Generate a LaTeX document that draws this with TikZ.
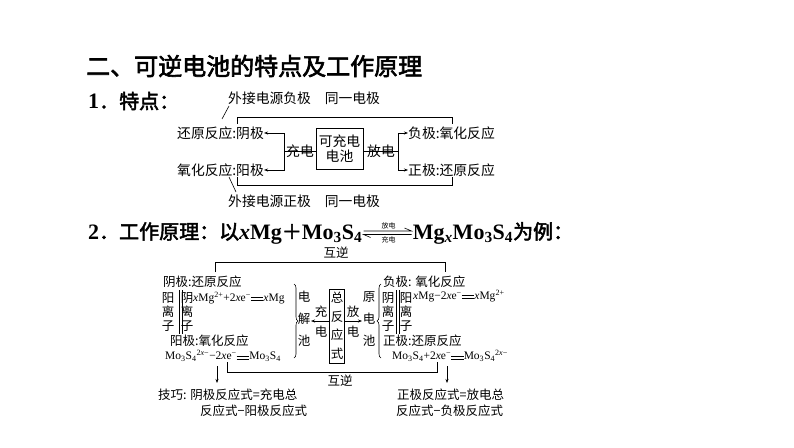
\documentclass[tikz,border=0pt]{standalone}
\usepackage{fontspec}
\setmainfont{Liberation Serif}
\newfontfamily\cjk{Noto Sans CJK SC}
\newfontfamily\cjkb{Noto Sans CJK SC}[FakeBold=2.5]
\usetikzlibrary{arrows.meta,decorations.pathreplacing}
\newcommand{\eqd}{\mbox{\rlap{\raisebox{0.15ex}{\rule{1.1em}{0.5pt}}}\raisebox{0.7ex}{\rule{1.1em}{0.5pt}}}}
\newcommand{\xx}{\textit{x}}
\newcommand{\Lb}[1]{{\rmfamily\bfseries\fontsize{22}{24}\selectfont #1}}
\begin{document}
\begin{tikzpicture}[x=1pt,y=-1pt,
  t1/.style={font=\cjk\fontsize{13.8}{15}\selectfont,inner sep=0pt,anchor=west},
  t2/.style={font=\cjk\fontsize{12.5}{14}\selectfont,inner sep=0pt,anchor=west},
  fm/.style={font=\rmfamily\fontsize{11.5}{13}\selectfont,inner sep=0pt,anchor=west},
  vt/.style={font=\cjk\fontsize{12.5}{14}\selectfont,inner sep=0pt,align=center},
  ln/.style={line width=0.6pt},
  ar/.style={line width=0.6pt,-{Stealth[length=4pt,width=3pt]}}]
\useasboundingbox (0,0) rectangle (794,447);
\fill[white] (0,0) rectangle (794,447);
% headings
\node[inner sep=0pt,anchor=west,font=\cjkb\fontsize{24}{26}\selectfont] (title) at (86,66) {二、可逆电池的特点及工作原理};
\node[inner sep=0pt,anchor=west,font=\cjkb\fontsize{20}{22}\selectfont] (h1) at (88,101) {\Lb{1}．特点：};
\node[inner sep=0pt,anchor=base west,font=\cjkb\fontsize{20}{22}\selectfont] (h2l) at (88,239) {\Lb{2}．工作原理：以\Lb{\textit{x}Mg}＋\Lb{Mo\textsubscript{3}S\textsubscript{4}}};
\coordinate (e1) at ([xshift=1pt,yshift=8pt]h2l.base east);
\coordinate (e2) at ([xshift=49pt,yshift=8pt]h2l.base east);
\coordinate (e3) at ([xshift=49pt,yshift=4.5pt]h2l.base east);
\coordinate (e4) at ([xshift=1pt,yshift=4.5pt]h2l.base east);
\node[inner sep=0pt,anchor=base west,font=\cjkb\fontsize{20}{22}\selectfont] (h2r) at ([xshift=50pt]h2l.base east) {\Lb{Mg\textsubscript{\textit{x}}Mo\textsubscript{3}S\textsubscript{4}}为例：};
\draw[ln] (e1) -- (e2) -- ++(-7,-3);
\draw[ln] (e3) -- (e4) -- ++(7,3);
\node[font=\cjk\fontsize{7}{8}\selectfont,inner sep=0pt,anchor=south] (fd) at ([xshift=25pt,yshift=2pt]e1) {放电};
\node[font=\cjk\fontsize{7}{8}\selectfont,inner sep=0pt,anchor=north] (cd) at ([xshift=25pt,yshift=-2pt]e4) {充电};
% section 1
\node[t1] (wf) at (228,98) {外接电源负极\quad 同一电极};
\node[t1] (hy) at (177,133) {还原反应:阴极};
\node[t1] (yh) at (177,170) {氧化反应:阳极};
\node[t1] (fj) at (408,133) {负极:氧化反应};
\node[t1] (zj) at (408,170) {正极:还原反应};
\node[t1] (wz) at (228,201) {外接电源正极\quad 同一电极};
\node[draw,ln,font=\cjk\fontsize{13.8}{15}\selectfont,align=center,minimum width=47pt,minimum height=41pt,inner sep=1pt] (box) at (339.5,148.5) {可充电\\电池};
\node[t1,anchor=south] (cd1) at (300,158) {充电};
\node[t1,anchor=south] (fd1) at (381,158) {放电};
\draw[ln] (box.west |- 0,151) -- (284,151);
\draw[ar] (284,151) |- (hy.east);
\draw[ar] (284,151) |- (yh.east);
\draw[ln] (box.east |- 0,151) -- (398,151);
\draw[ar] (398,151) |- (fj.west);
\draw[ar] (398,151) |- (zj.west);
\draw[ln] (237,124) -- (237,117) -- (452,117) -- (452,124);
\draw[ln] (237,177) -- (237,185) -- (452,185) -- (452,177);
\draw[ln] (229,106) -- (222,119);
\draw[ln] (229,177) -- (236,192);
% section 2
\node[t2,anchor=center] (hn1) at (336,253) {互逆};
\draw[ln] (215,272) -- (215,262) -- (445,262) -- (445,272);
\node[t2] (yjl) at (163,282) {阴极:还原反应};
\node[vt] (ylz1) at (168,312) {阳\\离\\子};
\node[vt] (ylz2) at (187,312) {阴\\离\\子};
\draw[ln] (179,290) -- (179,334); \draw[ln] (182,290) -- (182,334);
\node[fm] (eq1) at (193,298) {\xx Mg\textsuperscript{2+}+2\xx e\textsuperscript{−}\eqd\xx Mg};
\node[t2] (yjy) at (170,341) {阳极:氧化反应};
\node[fm] (eq2) at (165,356) {Mo\textsubscript{3}S\textsubscript{4}\textsuperscript{2\xx−}−2\xx e\textsuperscript{−}\eqd Mo\textsubscript{3}S\textsubscript{4}};
\draw[ln,decorate,decoration={brace,amplitude=4pt}] (294,284) -- (294,358);
\node[vt,font=\cjk\fontsize{12.5}{22}\selectfont] (djc) at (304,319) {电\\解\\池};
\node[draw,ln,vt,inner sep=1.5pt,minimum height=74pt,font=\cjk\fontsize{12.5}{18.5}\selectfont] (zfy) at (337,326) {总\\反\\应\\式};
\draw[ar] (zfy.west |- 0,321) -- (311,321);
\draw[ar] (zfy.east |- 0,321) -- (362,321);
\node[vt] (c2) at (321,312) {充}; \node[vt] (d2) at (321,332) {电};
\node[vt] (f2) at (353,312) {放}; \node[vt] (d3) at (353,332) {电};
\node[vt,font=\cjk\fontsize{12.5}{22}\selectfont] (ydc) at (369,319) {原\\电\\池};
\draw[ln,decorate,decoration={brace,amplitude=4pt}] (381,358) -- (381,284);
\node[t2] (fjy) at (383,282) {负极: 氧化反应};
\node[vt] (ylz3) at (388,312) {阴\\离\\子};
\node[vt] (ylz4) at (406,312) {阳\\离\\子};
\draw[ln] (396,290) -- (396,334); \draw[ln] (399,290) -- (399,334);
\node[fm] (eq3) at (413,296) {\xx Mg−2\xx e\textsuperscript{−}\eqd\xx Mg\textsuperscript{2+}};
\node[t2] (zjh) at (383,341) {正极:还原反应};
\node[fm] (eq4) at (392,356) {Mo\textsubscript{3}S\textsubscript{4}+2\xx e\textsuperscript{−}\eqd Mo\textsubscript{3}S\textsubscript{4}\textsuperscript{2\xx−}};
\draw[ln] (227,362) -- (227,372) -- (437,372) -- (437,362);
\node[t2,anchor=center] (hn2) at (340,381) {互逆};
\node[t2] (jq1) at (158,395) {技巧: 阴极反应式=充电总};
\node[t2] (jq2) at (200,411) {反应式−阳极反应式};
\node[t2] (zj2) at (397,395) {正极反应式=放电总};
\node[t2] (zj3) at (396,411) {反应式−负极反应式};
\draw[ar] (217,366) -- (217,383);
\draw[ar] (447,366) -- (447,383);
\end{tikzpicture}
\end{document}
